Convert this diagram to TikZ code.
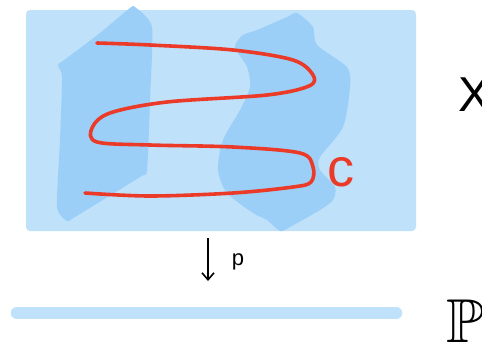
\documentclass[tikz,border=0pt]{standalone}
\usepackage{amssymb}
\usepackage{fontspec}
\setmainfont{Liberation Sans}
\usetikzlibrary{arrows.meta}
\definecolor{lightblue}{RGB}{191,225,250}
\definecolor{blobblue}{RGB}{155,207,248}
\definecolor{curvered}{RGB}{236,58,40}
\tikzset{
  blobstyle/.style={fill=blobblue, draw=none},
  curvestyle/.style={draw=curvered, line width=3.6pt, line cap=round, line join=round},
  handtext/.style={inner sep=0pt, text=black},
}
\begin{document}
\begin{tikzpicture}[x=1pt,y=-1pt]
\useasboundingbox (0,0) rectangle (482,346);
\fill[white] (0,0) rectangle (482,346);
% space X
\fill[lightblue, rounded corners=4pt] (26,10) rectangle (416,231);
% left blob
\path[blobstyle] plot[smooth cycle, tension=0.35] coordinates {
 (135,7) (152,27) (150,100) (147,170) (140,177) (75,217) (67,221) (57,207)
 (60,140) (62,77) (58,65) (67,58) (100,33) (130,8)};
% right blob
\path[blobstyle] plot[smooth cycle, tension=0.45] coordinates {
 (297,13) (313,27) (317,45) (347,67) (350,87) (343,127) (320,157) (320,170)
 (335,187) (333,200) (320,210) (290,227) (280,231) (267,220) (253,213) (227,193)
 (218,170) (223,140) (240,110) (250,87) (247,67) (235,47) (243,35) (257,30) (287,17)};
% curve C
\draw[curvestyle] plot[smooth, tension=0.55] coordinates {
 (97,43) (150,45) (233,50) (293,60) (313,75) (309,86) (267,95) (167,102)
 (110,113) (92,128) (97,142) (150,145) (233,147) (300,153) (313,167)
 (311,182) (293,187) (233,193) (150,196) (85,193)};
\node[handtext, text=curvered, font=\fontsize{54}{54}\selectfont] (clabel) at (341,172) {c};
% base P^1
\coordinate (b1) at (17,313);
\coordinate (b2) at (396,313);
\draw[lightblue, line width=12.5pt, line cap=round] (b1) -- (b2);
% projection arrow
\coordinate (a1) at (208,238);
\coordinate (a2) at (208,281);
\draw[line width=1.6pt, -{Straight Barb[length=7pt,width=12pt]}] (a1) -- (a2);
\node[handtext, font=\fontsize{22}{22}\selectfont] (plabel) at (238,262) {p};
% labels
\node[handtext, anchor=west, font=\fontsize{49}{49}\selectfont] (Xlabel) at (458,95) {X};
\node[handtext, anchor=west, font=\fontsize{62}{62}\selectfont] (Plabel) at (446,321) {$\mathbb{P}^1$};
\end{tikzpicture}
\end{document}
